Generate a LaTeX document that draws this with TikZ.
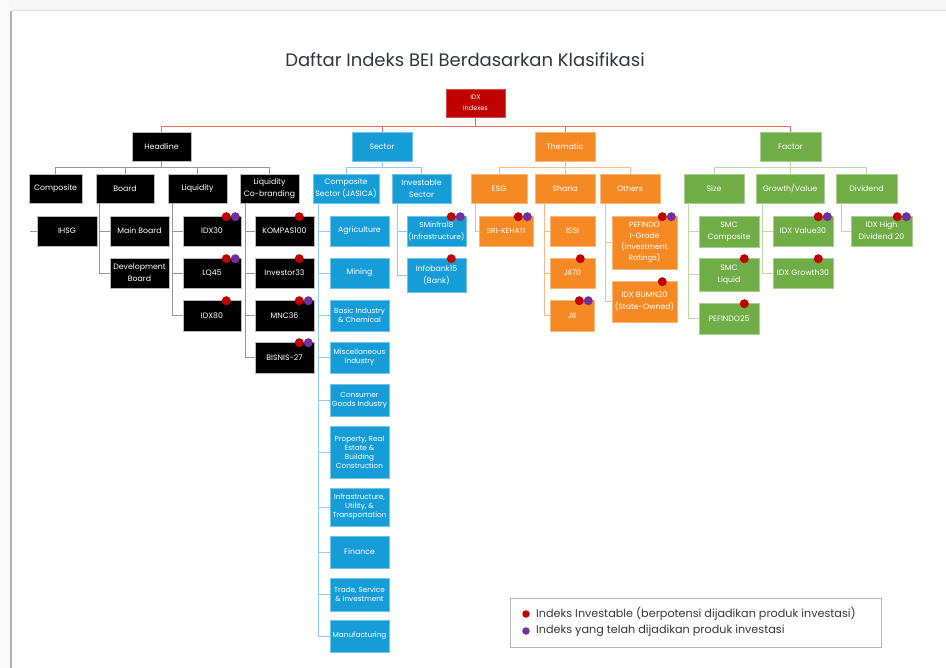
\documentclass[tikz,border=0pt]{standalone}
\usepackage{fontspec}
\setmainfont{Poppins}
\usetikzlibrary{calc}
\definecolor{hlblack}{RGB}{0,0,0}
\definecolor{rootred}{RGB}{192,0,0}
\definecolor{secblue}{RGB}{22,157,216}
\definecolor{themorange}{RGB}{245,137,35}
\definecolor{facgreen}{RGB}{112,173,71}
\definecolor{dotred}{RGB}{192,0,0}
\definecolor{dotpurple}{RGB}{112,48,160}
\definecolor{toplink}{RGB}{228,110,110}
\definecolor{hllink}{RGB}{150,150,150}
\definecolor{seclink}{RGB}{150,200,235}
\definecolor{themlink}{RGB}{248,185,140}
\definecolor{faclink}{RGB}{185,220,165}
\definecolor{titlecol}{RGB}{50,52,62}
\definecolor{legtext}{RGB}{55,55,55}
\newcommand\lblfont{\fontsize{7.8}{12}\selectfont}
\newcommand\tightfont{\fontsize{7.3}{9}\selectfont}
\newcommand\bx[7]{\node[box,#6,minimum width={(#4)-(#2)},minimum height={(#5)-(#3)}] (#1) at ({((#2)+(#4))/2},{((#3)+(#5))/2}) {#7};}
\newcommand\rd[1]{\node[rdot] (#1r) at ($(#1.north east)+(-15,1)$) {};}
\newcommand\rp[1]{\node[rdot] (#1r) at ($(#1.north east)+(-15,1)$) {};\node[pdot] (#1p) at ($(#1.north east)+(-6,1)$) {};}
\begin{document}
\begin{tikzpicture}[x=1pt,y=-1pt,
  box/.style={rectangle,inner sep=0.3pt,align=center,text=white,font=\lblfont},
  blk/.style={fill=hlblack,draw=gray!55,line width=0.6pt},
  rootbox/.style={fill=rootred,draw=rootred!70!white,line width=0.6pt},
  blu/.style={fill=secblue,draw=secblue!60!white,line width=0.6pt},
  org/.style={fill=themorange,draw=themorange!60!white,line width=0.6pt},
  grn/.style={fill=facgreen,draw=facgreen!60!white,line width=0.6pt},
  tight/.style={font=\tightfont},
  rdot/.style={circle,fill=dotred,inner sep=0pt,minimum size=9pt},
  pdot/.style={circle,fill=dotpurple,inner sep=0pt,minimum size=9pt},
  ctop/.style={draw=toplink,line width=0.8pt},
  chl/.style={draw=hllink,line width=0.8pt},
  csec/.style={draw=seclink,line width=0.8pt},
  cthem/.style={draw=themlink,line width=0.8pt},
  cfac/.style={draw=faclink,line width=0.8pt}]
\useasboundingbox (0,0) rectangle (946,668);
% slide background
\fill[white] (0,0) rectangle (946,668);
\fill[gray!7] (0,0) rectangle (946,10);
\fill[gray!5] (0,0) rectangle (10,668);
\draw[gray!25,line width=1pt] (11,11) -- (946,11);
\draw[gray!60,line width=2pt] (11,11) -- (11,668);
% title
\node[font=\fontsize{18}{22}\selectfont,text=titlecol] (title) at (465,60) {Daftar Indeks BEI Berdasarkan Klasifikasi};
% level 0 / 1
\bx{root}{446}{89}{505}{117}{rootbox,font=\fontsize{6.5}{11}\selectfont}{IDX\\Indexes}
\bx{headline}{132}{132}{191}{161}{blk}{Headline}
\bx{sector}{352}{132}{412}{161}{blu}{Sector}
\bx{thematic}{535}{132}{595}{161}{org}{Thematic}
\bx{factor}{760}{132}{821}{161}{grn}{Factor}
% level 2
\bx{composite}{29}{174}{82}{203}{blk}{Composite}
\bx{board}{96}{174}{154}{203}{blk}{Board}
\bx{liquidity}{168}{174}{227}{203}{blk}{Liquidity}
\bx{liqco}{240}{174}{299}{203}{blk}{Liquidity\\Co-branding}
\bx{jasica}{313}{174}{379}{203}{blu}{Composite\\Sector (JASICA)}
\bx{invsec}{392}{174}{451}{203}{blu}{Investable\\Sector}
\bx{esg}{471}{174}{527}{203}{org}{ESG}
\bx{sharia}{535}{174}{595}{203}{org}{Sharia}
\bx{others}{600}{174}{660}{203}{org}{Others}
\bx{size}{684}{174}{744}{203}{grn}{Size}
\bx{growth}{756}{174}{824}{203}{grn}{Growth/Value}
\bx{dividend}{836}{174}{897}{203}{grn}{Dividend}
% level 3 headline
\bx{ihsg}{37}{216}{97}{246}{blk}{IHSG}
\bx{mainb}{110}{216}{169}{246}{blk}{Main Board}
\bx{devb}{110}{258}{169}{288}{blk}{Development\\Board}
\bx{idx30}{183}{216}{241}{246}{blk}{IDX30}
\bx{lq45}{183}{258}{241}{288}{blk}{LQ45}
\bx{idx80}{183}{300}{241}{331}{blk}{IDX80}
\bx{kompas}{255}{216}{314}{246}{blk}{KOMPAS100}
\bx{inv33}{255}{258}{314}{288}{blk}{Investor33}
\bx{mnc36}{255}{300}{314}{331}{blk}{MNC36}
\bx{bisnis}{255}{342}{314}{373}{blk}{BISNIS-27}
% level 3 sector
\bx{agri}{330}{216}{389}{246}{blu}{Agriculture}
\bx{mining}{330}{258}{389}{288}{blu}{Mining}
\bx{basic}{330}{300}{389}{331}{blu,tight}{Basic Industry\\\& Chemical}
\bx{misc}{330}{342}{389}{373}{blu,tight}{Miscellaneous\\Industry}
\bx{consumer}{330}{384}{389}{416}{blu,tight}{Consumer\\Goods Industry}
\bx{property}{330}{426}{389}{478}{blu,tight}{Property, Real\\Estate \&\\Building\\Construction}
\bx{infra}{330}{488}{389}{526}{blu,tight}{Infrastructure,\\Utility, \&\\Transportation}
\bx{finance}{330}{536}{389}{568}{blu}{Finance}
\bx{trade}{330}{578}{389}{611}{blu,tight}{Trade, Service\\\& Investment}
\bx{manuf}{330}{620}{389}{652}{blu,tight}{Manufacturing}
\bx{sminfra}{407}{216}{466}{246}{blu,tight,font=\fontsize{7.3}{12}\selectfont}{SMinfra18\\(Infrastructure)}
\bx{infobank}{407}{258}{466}{292}{blu}{Infobank15\\(Bank)}
% level 3 thematic
\bx{sri}{479}{216}{533}{246}{org,tight}{SRI-KEHATI}
\bx{issi}{550}{216}{595}{246}{org}{ISSI}
\bx{jii70}{550}{258}{595}{288}{org}{JII70}
\bx{jii}{550}{300}{594}{331}{org}{JII}
\bx{pefindo}{612}{216}{677}{269}{org,font=\fontsize{7.6}{11}\selectfont}{PEFINDO\\I-Grade\\(Investment\\Ratings)}
\bx{bumn}{612}{281}{677}{322}{org}{IDX BUMN20\\(State-Owned)}
% level 3 factor
\bx{smcc}{699}{216}{759}{247}{grn}{SMC\\Composite}
\bx{smcl}{699}{258}{759}{291}{grn}{SMC\\Liquid}
\bx{pef25}{699}{303}{759}{334}{grn}{PEFINDO25}
\bx{value}{773}{216}{833}{246}{grn}{IDX Value30}
\bx{growthx}{773}{258}{833}{288}{grn}{IDX Growth30}
\bx{highdiv}{851}{216}{912}{246}{grn}{IDX High\\Dividend 20}
% connectors top level
\foreach \c in {headline,sector,thematic,factor}
  \draw[ctop] (root.south) -- ++(0,9) -| (\c.north);
% headline group
\foreach \c in {composite,board,liquidity,liqco}
  \draw[chl] (headline.south) -- ++(0,6) -| (\c.north);
\coordinate (ihsgstub) at (30,231);
\draw[chl] (ihsgstub) -- (ihsg.west);
\foreach \c in {mainb,devb} \draw[chl] (board.south west) ++(4,0) |- (\c.west);
\foreach \c in {idx30,lq45,idx80} \draw[chl] (liquidity.south west) ++(5,0) |- (\c.west);
\foreach \c in {kompas,inv33,mnc36,bisnis} \draw[chl] (liqco.south west) ++(6,0) |- (\c.west);
% sector group
\foreach \c in {jasica,invsec}
  \draw[csec] (sector.south) -- ++(0,6) -| (\c.north);
\foreach \c in {agri,mining,basic,misc,consumer,property,infra,finance,trade,manuf}
  \draw[csec] (jasica.south west) ++(6,0) |- (\c.west);
\foreach \c in {sminfra,infobank} \draw[csec] (invsec.south west) ++(6,0) |- (\c.west);
% thematic group
\foreach \c in {esg,sharia,others}
  \draw[cthem] (thematic.south) -- ++(0,6) -| (\c.north);
\draw[cthem] (esg.south west) ++(5,0) |- (sri.west);
\foreach \c in {issi,jii70,jii} \draw[cthem] (sharia.south west) ++(10,0) |- (\c.west);
\foreach \c in {pefindo,bumn} \draw[cthem] (others.south west) ++(6,0) |- (\c.west);
% factor group
\foreach \c in {size,growth,dividend}
  \draw[cfac] (factor.south) -- ++(0,6) -| (\c.north);
\foreach \c in {smcc,smcl,pef25} \draw[cfac] (size.south west) ++(5,0) |- (\c.west);
\foreach \c in {value,growthx} \draw[cfac] (growth.south west) ++(7,0) |- (\c.west);
\draw[cfac] (dividend.south west) ++(6,0) |- (highdiv.west);
% dots
\rp{idx30}\rp{lq45}\rd{idx80}
\rd{kompas}\rd{inv33}\rp{mnc36}\rp{bisnis}
\rp{sminfra}\rd{infobank}
\rp{sri}\rd{jii70}\rp{jii}\rp{pefindo}\rd{bumn}
\rd{smcl}\rd{pef25}\rp{value}\rd{growthx}\rp{highdiv}
% legend
\node[draw=gray!55,fill=white,line width=0.8pt,minimum width=371pt,minimum height=49pt,inner sep=0pt] (legend) at (695.5,622.5) {};
\node[circle,fill=dotred,inner sep=0pt,minimum size=7.5pt] (legr) at (526,614) {};
\node[circle,fill=dotpurple,inner sep=0pt,minimum size=7.5pt] (legp) at (526,631) {};
\node[anchor=west,text=legtext,font=\fontsize{11.2}{12}\selectfont,inner sep=0pt] (legrt) at (536,614) {Indeks Investable (berpotensi dijadikan produk investasi)};
\node[anchor=west,text=legtext,font=\fontsize{11.2}{12}\selectfont,inner sep=0pt] (legpt) at (536,631) {Indeks yang telah dijadikan produk investasi};
\end{tikzpicture}
\end{document}
